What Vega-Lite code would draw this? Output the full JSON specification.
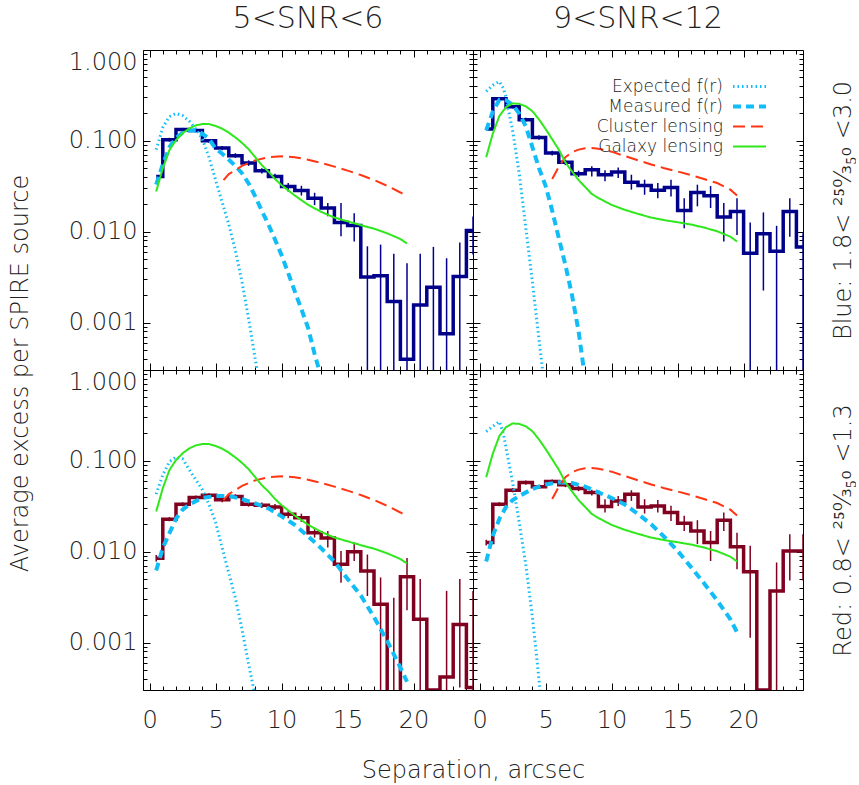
{
  "$schema": "https://vega.github.io/schema/vega-lite/v6.json",
  "background": "white",
  "padding": {"left": 7, "top": 3, "right": 0, "bottom": 0},
  "columns": 2,
  "spacing": 0,
  "bounds": "flush",
  "datasets": {
    "hist": [
      {"p": "TL", "x": 0.5, "y": 0.0406},
      {"p": "TL", "x": 1.5, "y": 0.103, "lo": 0.098, "hi": 0.108},
      {"p": "TL", "x": 2.5, "y": 0.133, "lo": 0.127, "hi": 0.139},
      {"p": "TL", "x": 3.5, "y": 0.13, "lo": 0.124, "hi": 0.136},
      {"p": "TL", "x": 4.5, "y": 0.1, "lo": 0.095, "hi": 0.105},
      {"p": "TL", "x": 5.5, "y": 0.0835, "lo": 0.079, "hi": 0.088},
      {"p": "TL", "x": 6.5, "y": 0.0687, "lo": 0.065, "hi": 0.073},
      {"p": "TL", "x": 7.5, "y": 0.057, "lo": 0.053, "hi": 0.061},
      {"p": "TL", "x": 8.5, "y": 0.0469, "lo": 0.0438, "hi": 0.05},
      {"p": "TL", "x": 9.5, "y": 0.0406, "lo": 0.0377, "hi": 0.0435},
      {"p": "TL", "x": 10.5, "y": 0.0315, "lo": 0.0277, "hi": 0.0343},
      {"p": "TL", "x": 11.5, "y": 0.0284, "lo": 0.025, "hi": 0.032},
      {"p": "TL", "x": 12.5, "y": 0.0234, "lo": 0.0196, "hi": 0.0268},
      {"p": "TL", "x": 13.5, "y": 0.0182, "lo": 0.0148, "hi": 0.0207},
      {"p": "TL", "x": 14.5, "y": 0.0126, "lo": 0.0089, "hi": 0.0207},
      {"p": "TL", "x": 15.5, "y": 0.0117, "lo": 0.0078, "hi": 0.016},
      {"p": "TL", "x": 16.5, "y": 0.00316, "lo": 0.0001, "hi": 0.0069},
      {"p": "TL", "x": 17.5, "y": 0.00327, "lo": 0.0001, "hi": 0.0072},
      {"p": "TL", "x": 18.5, "y": 0.0017, "lo": 0.0001, "hi": 0.0057},
      {"p": "TL", "x": 19.5, "y": 0.000394, "lo": 0.0001, "hi": 0.0045},
      {"p": "TL", "x": 20.5, "y": 0.00156, "lo": 0.0001, "hi": 0.0057},
      {"p": "TL", "x": 21.5, "y": 0.00245, "lo": 0.0001, "hi": 0.0068},
      {"p": "TL", "x": 22.5, "y": 0.00075, "lo": 0.0001, "hi": 0.0051},
      {"p": "TL", "x": 23.5, "y": 0.0032, "lo": 0.0001, "hi": 0.0076},
      {"p": "TL", "x": 24.5, "y": 0.0103, "lo": 0.0056, "hi": 0.0147},

      {"p": "TR", "x": 0.5, "y": 0.135},
      {"p": "TR", "x": 1.5, "y": 0.29, "lo": 0.28, "hi": 0.3},
      {"p": "TR", "x": 2.5, "y": 0.237, "lo": 0.227, "hi": 0.247},
      {"p": "TR", "x": 3.5, "y": 0.171, "lo": 0.163, "hi": 0.179},
      {"p": "TR", "x": 4.5, "y": 0.109, "lo": 0.103, "hi": 0.115},
      {"p": "TR", "x": 5.5, "y": 0.0735, "lo": 0.069, "hi": 0.078},
      {"p": "TR", "x": 6.5, "y": 0.058, "lo": 0.054, "hi": 0.062},
      {"p": "TR", "x": 7.5, "y": 0.0435, "lo": 0.04, "hi": 0.047},
      {"p": "TR", "x": 8.5, "y": 0.048, "lo": 0.0406, "hi": 0.0524},
      {"p": "TR", "x": 9.5, "y": 0.0424, "lo": 0.0358, "hi": 0.0473},
      {"p": "TR", "x": 10.5, "y": 0.0454, "lo": 0.039, "hi": 0.051},
      {"p": "TR", "x": 11.5, "y": 0.0349, "lo": 0.029, "hi": 0.0424},
      {"p": "TR", "x": 12.5, "y": 0.0323, "lo": 0.0255, "hi": 0.0373},
      {"p": "TR", "x": 13.5, "y": 0.0285, "lo": 0.0234, "hi": 0.0343},
      {"p": "TR", "x": 14.5, "y": 0.0307, "lo": 0.0244, "hi": 0.0373},
      {"p": "TR", "x": 15.5, "y": 0.0171, "lo": 0.0109, "hi": 0.0234},
      {"p": "TR", "x": 16.5, "y": 0.027, "lo": 0.019, "hi": 0.0329},
      {"p": "TR", "x": 17.5, "y": 0.0249, "lo": 0.0182, "hi": 0.0318},
      {"p": "TR", "x": 18.5, "y": 0.0145, "lo": 0.0078, "hi": 0.0207},
      {"p": "TR", "x": 19.5, "y": 0.0167, "lo": 0.0092, "hi": 0.0234},
      {"p": "TR", "x": 20.5, "y": 0.0058, "lo": 0.0001, "hi": 0.0126},
      {"p": "TR", "x": 21.5, "y": 0.0095, "lo": 0.00225, "hi": 0.0163},
      {"p": "TR", "x": 22.5, "y": 0.0061, "lo": 0.0001, "hi": 0.0116},
      {"p": "TR", "x": 23.5, "y": 0.0167, "lo": 0.0088, "hi": 0.0234},
      {"p": "TR", "x": 24.5, "y": 0.0068, "lo": 0.0001, "hi": 0.0096},

      {"p": "BL", "x": 0.5, "y": 0.00846, "lo": 0.0078, "hi": 0.0092},
      {"p": "BL", "x": 1.5, "y": 0.0228, "lo": 0.0216, "hi": 0.024},
      {"p": "BL", "x": 2.5, "y": 0.0333, "lo": 0.0316, "hi": 0.035},
      {"p": "BL", "x": 3.5, "y": 0.0395, "lo": 0.0375, "hi": 0.0415},
      {"p": "BL", "x": 4.5, "y": 0.0418, "lo": 0.0396, "hi": 0.044},
      {"p": "BL", "x": 5.5, "y": 0.0372, "lo": 0.035, "hi": 0.0393},
      {"p": "BL", "x": 6.5, "y": 0.0405, "lo": 0.0382, "hi": 0.0428},
      {"p": "BL", "x": 7.5, "y": 0.0333, "lo": 0.0313, "hi": 0.0353},
      {"p": "BL", "x": 8.5, "y": 0.0325, "lo": 0.0303, "hi": 0.0347},
      {"p": "BL", "x": 9.5, "y": 0.0311, "lo": 0.0287, "hi": 0.0335},
      {"p": "BL", "x": 10.5, "y": 0.0258, "lo": 0.0234, "hi": 0.0282},
      {"p": "BL", "x": 11.5, "y": 0.0237, "lo": 0.0212, "hi": 0.0262},
      {"p": "BL", "x": 12.5, "y": 0.0162, "lo": 0.0143, "hi": 0.0184},
      {"p": "BL", "x": 13.5, "y": 0.0141, "lo": 0.0111, "hi": 0.0169},
      {"p": "BL", "x": 14.5, "y": 0.00726, "lo": 0.00456, "hi": 0.0102},
      {"p": "BL", "x": 15.5, "y": 0.01, "lo": 0.0079, "hi": 0.0126},
      {"p": "BL", "x": 16.5, "y": 0.00612, "lo": 0.00325, "hi": 0.0093},
      {"p": "BL", "x": 17.5, "y": 0.00263, "lo": 0.0001, "hi": 0.0052},
      {"p": "BL", "x": 18.5, "y": 0.0001, "lo": 0.0001, "hi": 0.0031},
      {"p": "BL", "x": 19.5, "y": 0.0053, "lo": 0.00226, "hi": 0.0085},
      {"p": "BL", "x": 20.5, "y": 0.0018, "lo": 0.0001, "hi": 0.005},
      {"p": "BL", "x": 21.5, "y": 0.0003},
      {"p": "BL", "x": 22.5, "y": 0.000416, "lo": 0.0001, "hi": 0.0037},
      {"p": "BL", "x": 23.5, "y": 0.00158, "lo": 0.00032, "hi": 0.005},
      {"p": "BL", "x": 24.5, "y": 0.00032, "lo": 0.0001, "hi": 0.0037},

      {"p": "BR", "x": 0.5, "y": 0.0126, "lo": 0.0117, "hi": 0.0135},
      {"p": "BR", "x": 1.5, "y": 0.0333, "lo": 0.0316, "hi": 0.035},
      {"p": "BR", "x": 2.5, "y": 0.0475, "lo": 0.045, "hi": 0.05},
      {"p": "BR", "x": 3.5, "y": 0.0577, "lo": 0.0547, "hi": 0.0607},
      {"p": "BR", "x": 4.5, "y": 0.0517, "lo": 0.049, "hi": 0.0545},
      {"p": "BR", "x": 5.5, "y": 0.0591, "lo": 0.056, "hi": 0.0623},
      {"p": "BR", "x": 6.5, "y": 0.0544, "lo": 0.0513, "hi": 0.0575},
      {"p": "BR", "x": 7.5, "y": 0.0496, "lo": 0.0464, "hi": 0.053},
      {"p": "BR", "x": 8.5, "y": 0.0448, "lo": 0.0416, "hi": 0.048},
      {"p": "BR", "x": 9.5, "y": 0.0314, "lo": 0.027, "hi": 0.0378},
      {"p": "BR", "x": 10.5, "y": 0.0362, "lo": 0.0319, "hi": 0.0411},
      {"p": "BR", "x": 11.5, "y": 0.043, "lo": 0.0362, "hi": 0.0475},
      {"p": "BR", "x": 12.5, "y": 0.0311, "lo": 0.0263, "hi": 0.0378},
      {"p": "BR", "x": 13.5, "y": 0.0319, "lo": 0.027, "hi": 0.037},
      {"p": "BR", "x": 14.5, "y": 0.027, "lo": 0.0218, "hi": 0.032},
      {"p": "BR", "x": 15.5, "y": 0.0206, "lo": 0.0169, "hi": 0.0248},
      {"p": "BR", "x": 16.5, "y": 0.0169, "lo": 0.0121, "hi": 0.0222},
      {"p": "BR", "x": 17.5, "y": 0.0126, "lo": 0.0079, "hi": 0.0169},
      {"p": "BR", "x": 18.5, "y": 0.0222, "lo": 0.0169, "hi": 0.027},
      {"p": "BR", "x": 19.5, "y": 0.0113, "lo": 0.0064, "hi": 0.0162},
      {"p": "BR", "x": 20.5, "y": 0.006, "lo": 0.00113, "hi": 0.0116},
      {"p": "BR", "x": 21.5, "y": 0.0003},
      {"p": "BR", "x": 22.5, "y": 0.0037, "lo": 0.0001, "hi": 0.0076},
      {"p": "BR", "x": 23.5, "y": 0.0102, "lo": 0.0048, "hi": 0.0156},
      {"p": "BR", "x": 24.5, "y": 0.0102, "lo": 0.0048, "hi": 0.0156}
    ],
    "curves": [
      {"p": "TL", "s": "Expected f(r)", "x": 0.5, "y": 0.08},
      {"p": "TL", "s": "Expected f(r)", "x": 1, "y": 0.14},
      {"p": "TL", "s": "Expected f(r)", "x": 1.5, "y": 0.185},
      {"p": "TL", "s": "Expected f(r)", "x": 2, "y": 0.2},
      {"p": "TL", "s": "Expected f(r)", "x": 2.5, "y": 0.19},
      {"p": "TL", "s": "Expected f(r)", "x": 3, "y": 0.165},
      {"p": "TL", "s": "Expected f(r)", "x": 3.5, "y": 0.135},
      {"p": "TL", "s": "Expected f(r)", "x": 4, "y": 0.105},
      {"p": "TL", "s": "Expected f(r)", "x": 4.5, "y": 0.066},
      {"p": "TL", "s": "Expected f(r)", "x": 5, "y": 0.037},
      {"p": "TL", "s": "Expected f(r)", "x": 5.5, "y": 0.021},
      {"p": "TL", "s": "Expected f(r)", "x": 6, "y": 0.012},
      {"p": "TL", "s": "Expected f(r)", "x": 6.5, "y": 0.0062},
      {"p": "TL", "s": "Expected f(r)", "x": 7, "y": 0.0028},
      {"p": "TL", "s": "Expected f(r)", "x": 7.5, "y": 0.0011},
      {"p": "TL", "s": "Expected f(r)", "x": 8, "y": 0.0004},
      {"p": "TL", "s": "Expected f(r)", "x": 8.4, "y": 0.00018},

      {"p": "TL", "s": "Measured f(r)", "x": 0.5, "y": 0.033},
      {"p": "TL", "s": "Measured f(r)", "x": 1, "y": 0.055},
      {"p": "TL", "s": "Measured f(r)", "x": 1.5, "y": 0.085},
      {"p": "TL", "s": "Measured f(r)", "x": 2, "y": 0.108},
      {"p": "TL", "s": "Measured f(r)", "x": 2.5, "y": 0.123},
      {"p": "TL", "s": "Measured f(r)", "x": 3, "y": 0.13},
      {"p": "TL", "s": "Measured f(r)", "x": 3.5, "y": 0.13},
      {"p": "TL", "s": "Measured f(r)", "x": 4, "y": 0.12},
      {"p": "TL", "s": "Measured f(r)", "x": 4.5, "y": 0.105},
      {"p": "TL", "s": "Measured f(r)", "x": 5, "y": 0.082},
      {"p": "TL", "s": "Measured f(r)", "x": 5.5, "y": 0.072},
      {"p": "TL", "s": "Measured f(r)", "x": 6, "y": 0.062},
      {"p": "TL", "s": "Measured f(r)", "x": 6.5, "y": 0.053},
      {"p": "TL", "s": "Measured f(r)", "x": 7, "y": 0.044},
      {"p": "TL", "s": "Measured f(r)", "x": 7.5, "y": 0.034},
      {"p": "TL", "s": "Measured f(r)", "x": 8, "y": 0.0245},
      {"p": "TL", "s": "Measured f(r)", "x": 8.5, "y": 0.017},
      {"p": "TL", "s": "Measured f(r)", "x": 9, "y": 0.012},
      {"p": "TL", "s": "Measured f(r)", "x": 9.5, "y": 0.0082},
      {"p": "TL", "s": "Measured f(r)", "x": 10, "y": 0.0055},
      {"p": "TL", "s": "Measured f(r)", "x": 10.5, "y": 0.0035},
      {"p": "TL", "s": "Measured f(r)", "x": 11, "y": 0.0022},
      {"p": "TL", "s": "Measured f(r)", "x": 11.5, "y": 0.0014},
      {"p": "TL", "s": "Measured f(r)", "x": 12, "y": 0.00088},
      {"p": "TL", "s": "Measured f(r)", "x": 12.5, "y": 0.00045},
      {"p": "TL", "s": "Measured f(r)", "x": 12.9, "y": 0.00028},

      {"p": "TR", "s": "Expected f(r)", "x": 0.5, "y": 0.35},
      {"p": "TR", "s": "Expected f(r)", "x": 1, "y": 0.41},
      {"p": "TR", "s": "Expected f(r)", "x": 1.5, "y": 0.45},
      {"p": "TR", "s": "Expected f(r)", "x": 1.8, "y": 0.38},
      {"p": "TR", "s": "Expected f(r)", "x": 2, "y": 0.3},
      {"p": "TR", "s": "Expected f(r)", "x": 2.5, "y": 0.13},
      {"p": "TR", "s": "Expected f(r)", "x": 3, "y": 0.044},
      {"p": "TR", "s": "Expected f(r)", "x": 3.5, "y": 0.011},
      {"p": "TR", "s": "Expected f(r)", "x": 4, "y": 0.0028},
      {"p": "TR", "s": "Expected f(r)", "x": 4.5, "y": 0.00065},
      {"p": "TR", "s": "Expected f(r)", "x": 4.8, "y": 0.00028},

      {"p": "TR", "s": "Measured f(r)", "x": 0.5, "y": 0.13},
      {"p": "TR", "s": "Measured f(r)", "x": 1, "y": 0.21},
      {"p": "TR", "s": "Measured f(r)", "x": 1.5, "y": 0.283},
      {"p": "TR", "s": "Measured f(r)", "x": 2, "y": 0.28},
      {"p": "TR", "s": "Measured f(r)", "x": 2.5, "y": 0.25},
      {"p": "TR", "s": "Measured f(r)", "x": 3, "y": 0.2},
      {"p": "TR", "s": "Measured f(r)", "x": 3.5, "y": 0.145},
      {"p": "TR", "s": "Measured f(r)", "x": 4, "y": 0.085},
      {"p": "TR", "s": "Measured f(r)", "x": 4.5, "y": 0.05},
      {"p": "TR", "s": "Measured f(r)", "x": 5, "y": 0.032},
      {"p": "TR", "s": "Measured f(r)", "x": 5.5, "y": 0.017},
      {"p": "TR", "s": "Measured f(r)", "x": 6, "y": 0.0085},
      {"p": "TR", "s": "Measured f(r)", "x": 6.5, "y": 0.0043},
      {"p": "TR", "s": "Measured f(r)", "x": 7, "y": 0.002},
      {"p": "TR", "s": "Measured f(r)", "x": 7.5, "y": 0.0008},
      {"p": "TR", "s": "Measured f(r)", "x": 7.9, "y": 0.0003},

      {"p": "BL", "s": "Expected f(r)", "x": 0.5, "y": 0.043},
      {"p": "BL", "s": "Expected f(r)", "x": 1, "y": 0.07},
      {"p": "BL", "s": "Expected f(r)", "x": 1.5, "y": 0.098},
      {"p": "BL", "s": "Expected f(r)", "x": 2, "y": 0.11},
      {"p": "BL", "s": "Expected f(r)", "x": 2.5, "y": 0.105},
      {"p": "BL", "s": "Expected f(r)", "x": 3, "y": 0.08},
      {"p": "BL", "s": "Expected f(r)", "x": 3.5, "y": 0.062},
      {"p": "BL", "s": "Expected f(r)", "x": 4, "y": 0.048},
      {"p": "BL", "s": "Expected f(r)", "x": 4.5, "y": 0.033},
      {"p": "BL", "s": "Expected f(r)", "x": 5, "y": 0.021},
      {"p": "BL", "s": "Expected f(r)", "x": 5.5, "y": 0.011},
      {"p": "BL", "s": "Expected f(r)", "x": 6, "y": 0.0058},
      {"p": "BL", "s": "Expected f(r)", "x": 6.5, "y": 0.0031},
      {"p": "BL", "s": "Expected f(r)", "x": 7, "y": 0.0014},
      {"p": "BL", "s": "Expected f(r)", "x": 7.5, "y": 0.00058},
      {"p": "BL", "s": "Expected f(r)", "x": 7.9, "y": 0.0003},

      {"p": "BL", "s": "Measured f(r)", "x": 0.5, "y": 0.0062},
      {"p": "BL", "s": "Measured f(r)", "x": 1, "y": 0.011},
      {"p": "BL", "s": "Measured f(r)", "x": 1.5, "y": 0.016},
      {"p": "BL", "s": "Measured f(r)", "x": 2, "y": 0.023},
      {"p": "BL", "s": "Measured f(r)", "x": 2.5, "y": 0.029},
      {"p": "BL", "s": "Measured f(r)", "x": 3, "y": 0.033},
      {"p": "BL", "s": "Measured f(r)", "x": 3.5, "y": 0.036},
      {"p": "BL", "s": "Measured f(r)", "x": 4, "y": 0.039},
      {"p": "BL", "s": "Measured f(r)", "x": 5, "y": 0.041},
      {"p": "BL", "s": "Measured f(r)", "x": 6, "y": 0.041},
      {"p": "BL", "s": "Measured f(r)", "x": 7, "y": 0.038},
      {"p": "BL", "s": "Measured f(r)", "x": 8, "y": 0.034},
      {"p": "BL", "s": "Measured f(r)", "x": 9, "y": 0.03},
      {"p": "BL", "s": "Measured f(r)", "x": 10, "y": 0.0245},
      {"p": "BL", "s": "Measured f(r)", "x": 11, "y": 0.0197},
      {"p": "BL", "s": "Measured f(r)", "x": 12, "y": 0.0148},
      {"p": "BL", "s": "Measured f(r)", "x": 13, "y": 0.0109},
      {"p": "BL", "s": "Measured f(r)", "x": 14, "y": 0.0078},
      {"p": "BL", "s": "Measured f(r)", "x": 15, "y": 0.005},
      {"p": "BL", "s": "Measured f(r)", "x": 16, "y": 0.0033},
      {"p": "BL", "s": "Measured f(r)", "x": 17, "y": 0.0019},
      {"p": "BL", "s": "Measured f(r)", "x": 18, "y": 0.00104},
      {"p": "BL", "s": "Measured f(r)", "x": 19, "y": 0.00053},
      {"p": "BL", "s": "Measured f(r)", "x": 19.5, "y": 0.00037},

      {"p": "BR", "s": "Expected f(r)", "x": 0.5, "y": 0.21},
      {"p": "BR", "s": "Expected f(r)", "x": 1, "y": 0.24},
      {"p": "BR", "s": "Expected f(r)", "x": 1.5, "y": 0.27},
      {"p": "BR", "s": "Expected f(r)", "x": 1.8, "y": 0.2},
      {"p": "BR", "s": "Expected f(r)", "x": 2, "y": 0.14},
      {"p": "BR", "s": "Expected f(r)", "x": 2.5, "y": 0.058},
      {"p": "BR", "s": "Expected f(r)", "x": 3, "y": 0.021},
      {"p": "BR", "s": "Expected f(r)", "x": 3.5, "y": 0.0072},
      {"p": "BR", "s": "Expected f(r)", "x": 4, "y": 0.0019},
      {"p": "BR", "s": "Expected f(r)", "x": 4.3, "y": 0.00075},
      {"p": "BR", "s": "Expected f(r)", "x": 4.6, "y": 0.00028},

      {"p": "BR", "s": "Measured f(r)", "x": 0.5, "y": 0.0078},
      {"p": "BR", "s": "Measured f(r)", "x": 1, "y": 0.015},
      {"p": "BR", "s": "Measured f(r)", "x": 1.5, "y": 0.023},
      {"p": "BR", "s": "Measured f(r)", "x": 2, "y": 0.031},
      {"p": "BR", "s": "Measured f(r)", "x": 2.5, "y": 0.037},
      {"p": "BR", "s": "Measured f(r)", "x": 3, "y": 0.041},
      {"p": "BR", "s": "Measured f(r)", "x": 4, "y": 0.049},
      {"p": "BR", "s": "Measured f(r)", "x": 5, "y": 0.055},
      {"p": "BR", "s": "Measured f(r)", "x": 6, "y": 0.058},
      {"p": "BR", "s": "Measured f(r)", "x": 7, "y": 0.057},
      {"p": "BR", "s": "Measured f(r)", "x": 8, "y": 0.052},
      {"p": "BR", "s": "Measured f(r)", "x": 9, "y": 0.045},
      {"p": "BR", "s": "Measured f(r)", "x": 10, "y": 0.039},
      {"p": "BR", "s": "Measured f(r)", "x": 11, "y": 0.033},
      {"p": "BR", "s": "Measured f(r)", "x": 12, "y": 0.026},
      {"p": "BR", "s": "Measured f(r)", "x": 13, "y": 0.02},
      {"p": "BR", "s": "Measured f(r)", "x": 14, "y": 0.0145},
      {"p": "BR", "s": "Measured f(r)", "x": 15, "y": 0.0102},
      {"p": "BR", "s": "Measured f(r)", "x": 16, "y": 0.0068},
      {"p": "BR", "s": "Measured f(r)", "x": 17, "y": 0.0045},
      {"p": "BR", "s": "Measured f(r)", "x": 18, "y": 0.0029},
      {"p": "BR", "s": "Measured f(r)", "x": 19, "y": 0.0018},
      {"p": "BR", "s": "Measured f(r)", "x": 19.5, "y": 0.0013},

      {"p": "L", "s": "Cluster lensing", "x": 5.6, "y": 0.037},
      {"p": "L", "s": "Cluster lensing", "x": 6, "y": 0.043},
      {"p": "L", "s": "Cluster lensing", "x": 7, "y": 0.053},
      {"p": "L", "s": "Cluster lensing", "x": 8, "y": 0.061},
      {"p": "L", "s": "Cluster lensing", "x": 9, "y": 0.066},
      {"p": "L", "s": "Cluster lensing", "x": 10, "y": 0.0675},
      {"p": "L", "s": "Cluster lensing", "x": 11, "y": 0.066},
      {"p": "L", "s": "Cluster lensing", "x": 12, "y": 0.062},
      {"p": "L", "s": "Cluster lensing", "x": 13, "y": 0.057},
      {"p": "L", "s": "Cluster lensing", "x": 14, "y": 0.052},
      {"p": "L", "s": "Cluster lensing", "x": 15, "y": 0.047},
      {"p": "L", "s": "Cluster lensing", "x": 16, "y": 0.042},
      {"p": "L", "s": "Cluster lensing", "x": 17, "y": 0.037},
      {"p": "L", "s": "Cluster lensing", "x": 18, "y": 0.032},
      {"p": "L", "s": "Cluster lensing", "x": 19, "y": 0.027},
      {"p": "L", "s": "Cluster lensing", "x": 19.5, "y": 0.0245},

      {"p": "L", "s": "Galaxy lensing", "x": 0.5, "y": 0.0277},
      {"p": "L", "s": "Galaxy lensing", "x": 1, "y": 0.05},
      {"p": "L", "s": "Galaxy lensing", "x": 1.5, "y": 0.079},
      {"p": "L", "s": "Galaxy lensing", "x": 2, "y": 0.102},
      {"p": "L", "s": "Galaxy lensing", "x": 2.5, "y": 0.121},
      {"p": "L", "s": "Galaxy lensing", "x": 3, "y": 0.137},
      {"p": "L", "s": "Galaxy lensing", "x": 3.5, "y": 0.148},
      {"p": "L", "s": "Galaxy lensing", "x": 4, "y": 0.153},
      {"p": "L", "s": "Galaxy lensing", "x": 4.5, "y": 0.153},
      {"p": "L", "s": "Galaxy lensing", "x": 5, "y": 0.146},
      {"p": "L", "s": "Galaxy lensing", "x": 5.5, "y": 0.136},
      {"p": "L", "s": "Galaxy lensing", "x": 6, "y": 0.123},
      {"p": "L", "s": "Galaxy lensing", "x": 6.5, "y": 0.109},
      {"p": "L", "s": "Galaxy lensing", "x": 7, "y": 0.095},
      {"p": "L", "s": "Galaxy lensing", "x": 7.5, "y": 0.081},
      {"p": "L", "s": "Galaxy lensing", "x": 8, "y": 0.066},
      {"p": "L", "s": "Galaxy lensing", "x": 8.5, "y": 0.054},
      {"p": "L", "s": "Galaxy lensing", "x": 9, "y": 0.046},
      {"p": "L", "s": "Galaxy lensing", "x": 9.5, "y": 0.038},
      {"p": "L", "s": "Galaxy lensing", "x": 10, "y": 0.0325},
      {"p": "L", "s": "Galaxy lensing", "x": 11, "y": 0.025},
      {"p": "L", "s": "Galaxy lensing", "x": 12, "y": 0.0198},
      {"p": "L", "s": "Galaxy lensing", "x": 13, "y": 0.0165},
      {"p": "L", "s": "Galaxy lensing", "x": 14, "y": 0.0143},
      {"p": "L", "s": "Galaxy lensing", "x": 15, "y": 0.013},
      {"p": "L", "s": "Galaxy lensing", "x": 16, "y": 0.0118},
      {"p": "L", "s": "Galaxy lensing", "x": 17, "y": 0.0108},
      {"p": "L", "s": "Galaxy lensing", "x": 18, "y": 0.0096},
      {"p": "L", "s": "Galaxy lensing", "x": 19, "y": 0.0083},
      {"p": "L", "s": "Galaxy lensing", "x": 19.5, "y": 0.0074},

      {"p": "R", "s": "Cluster lensing", "x": 5.5, "y": 0.038},
      {"p": "R", "s": "Cluster lensing", "x": 6, "y": 0.052},
      {"p": "R", "s": "Cluster lensing", "x": 6.5, "y": 0.066},
      {"p": "R", "s": "Cluster lensing", "x": 7, "y": 0.075},
      {"p": "R", "s": "Cluster lensing", "x": 7.5, "y": 0.08},
      {"p": "R", "s": "Cluster lensing", "x": 8, "y": 0.083},
      {"p": "R", "s": "Cluster lensing", "x": 8.5, "y": 0.0835},
      {"p": "R", "s": "Cluster lensing", "x": 9, "y": 0.082},
      {"p": "R", "s": "Cluster lensing", "x": 10, "y": 0.076},
      {"p": "R", "s": "Cluster lensing", "x": 11, "y": 0.068},
      {"p": "R", "s": "Cluster lensing", "x": 12, "y": 0.061},
      {"p": "R", "s": "Cluster lensing", "x": 13, "y": 0.055},
      {"p": "R", "s": "Cluster lensing", "x": 14, "y": 0.05},
      {"p": "R", "s": "Cluster lensing", "x": 15, "y": 0.046},
      {"p": "R", "s": "Cluster lensing", "x": 16, "y": 0.042},
      {"p": "R", "s": "Cluster lensing", "x": 17, "y": 0.038},
      {"p": "R", "s": "Cluster lensing", "x": 18, "y": 0.0343},
      {"p": "R", "s": "Cluster lensing", "x": 19, "y": 0.029},
      {"p": "R", "s": "Cluster lensing", "x": 19.5, "y": 0.025},

      {"p": "R", "s": "Galaxy lensing", "x": 0.5, "y": 0.066},
      {"p": "R", "s": "Galaxy lensing", "x": 1, "y": 0.12},
      {"p": "R", "s": "Galaxy lensing", "x": 1.5, "y": 0.188},
      {"p": "R", "s": "Galaxy lensing", "x": 2, "y": 0.235},
      {"p": "R", "s": "Galaxy lensing", "x": 2.5, "y": 0.258},
      {"p": "R", "s": "Galaxy lensing", "x": 3, "y": 0.255},
      {"p": "R", "s": "Galaxy lensing", "x": 3.5, "y": 0.24},
      {"p": "R", "s": "Galaxy lensing", "x": 4, "y": 0.212},
      {"p": "R", "s": "Galaxy lensing", "x": 4.5, "y": 0.172},
      {"p": "R", "s": "Galaxy lensing", "x": 5, "y": 0.135},
      {"p": "R", "s": "Galaxy lensing", "x": 5.5, "y": 0.104},
      {"p": "R", "s": "Galaxy lensing", "x": 6, "y": 0.08},
      {"p": "R", "s": "Galaxy lensing", "x": 6.5, "y": 0.058},
      {"p": "R", "s": "Galaxy lensing", "x": 7, "y": 0.046},
      {"p": "R", "s": "Galaxy lensing", "x": 7.5, "y": 0.037},
      {"p": "R", "s": "Galaxy lensing", "x": 8, "y": 0.031},
      {"p": "R", "s": "Galaxy lensing", "x": 8.5, "y": 0.026},
      {"p": "R", "s": "Galaxy lensing", "x": 9, "y": 0.0235},
      {"p": "R", "s": "Galaxy lensing", "x": 10, "y": 0.0197},
      {"p": "R", "s": "Galaxy lensing", "x": 11, "y": 0.0174},
      {"p": "R", "s": "Galaxy lensing", "x": 12, "y": 0.0157},
      {"p": "R", "s": "Galaxy lensing", "x": 13, "y": 0.0143},
      {"p": "R", "s": "Galaxy lensing", "x": 14, "y": 0.0134},
      {"p": "R", "s": "Galaxy lensing", "x": 15, "y": 0.0127},
      {"p": "R", "s": "Galaxy lensing", "x": 16, "y": 0.012},
      {"p": "R", "s": "Galaxy lensing", "x": 17, "y": 0.0111},
      {"p": "R", "s": "Galaxy lensing", "x": 18, "y": 0.0101},
      {"p": "R", "s": "Galaxy lensing", "x": 19, "y": 0.0088},
      {"p": "R", "s": "Galaxy lensing", "x": 19.5, "y": 0.0078}
    ]
  },
  "concat": [
    {
      "width": 330, "height": 320,
      "title": {"text": "5<SNR<6"},
      "layer": [
        {
          "data": {"name": "hist"},
          "transform": [{"filter": "datum.p === 'TL'"}],
          "mark": {"type": "line", "interpolate": "step", "clip": true, "color": "#00008B", "strokeWidth": 3.5},
          "encoding": {
            "x": {"field": "x", "type": "quantitative", "scale": {"domain": [-0.5, 24.5], "nice": false, "zero": false},
              "axis": {"orient": "bottom", "values": [0,1,2,3,4,5,6,7,8,9,10,11,12,13,14,15,16,17,18,19,20,21,22,23,24], "labels": false, "title": null,
                "tickSize": {"condition": {"test": "datum.value % 5 === 0", "value": -7}, "value": -4}}},
            "y": {"field": "y", "type": "quantitative", "scale": {"type": "log", "domain": [0.0003, 1], "nice": false},
              "axis": {"orient": "left", "values": [0.0003,0.0004,0.0005,0.0006,0.0007,0.0008,0.0009,0.001,0.002,0.003,0.004,0.005,0.006,0.007,0.008,0.009,0.01,0.02,0.03,0.04,0.05,0.06,0.07,0.08,0.09,0.1,0.2,0.3,0.4,0.5,0.6,0.7,0.8,0.9,1],
                "labelExpr": "abs(log(datum.value) / LN10 - round(log(datum.value) / LN10)) < 0.01 ? format(datum.value, '.3f') : ''",
                "labelFontSize": {"condition": {"test": "abs(log(datum.value) / LN10 - round(log(datum.value) / LN10)) < 0.01", "value": 24}, "value": 0},
                "labelFlush": true, "labelOverlap": false, "labelPadding": 13,
                "tickSize": {"condition": {"test": "abs(log(datum.value) / LN10 - round(log(datum.value) / LN10)) < 0.01", "value": -7}, "value": -4},
                "title": "Average excess per SPIRE source", "titleX": -116, "titleY": 323, "titleAngle": 270, "titleBaseline": "alphabetic"}}
          }
        },
        {
          "data": {"name": "hist"},
          "transform": [{"filter": "datum.p === 'TL' && isValid(datum.lo)"}],
          "mark": {"type": "rule", "clip": true, "color": "#00008B", "strokeWidth": 1.5},
          "encoding": {
            "x": {"field": "x", "type": "quantitative", "scale": {"domain": [-0.5, 24.5], "nice": false, "zero": false},
              "axis": {"orient": "top", "values": [0,1,2,3,4,5,6,7,8,9,10,11,12,13,14,15,16,17,18,19,20,21,22,23,24], "labels": false, "title": null,
                "tickSize": {"condition": {"test": "datum.value % 5 === 0", "value": -7}, "value": -4}}},
            "y": {"field": "lo", "type": "quantitative", "scale": {"type": "log", "domain": [0.0003, 1], "nice": false},
              "axis": {"orient": "right", "values": [0.0003,0.0004,0.0005,0.0006,0.0007,0.0008,0.0009,0.001,0.002,0.003,0.004,0.005,0.006,0.007,0.008,0.009,0.01,0.02,0.03,0.04,0.05,0.06,0.07,0.08,0.09,0.1,0.2,0.3,0.4,0.5,0.6,0.7,0.8,0.9,1],
                "labels": false, "title": null,
                "tickSize": {"condition": {"test": "abs(log(datum.value) / LN10 - round(log(datum.value) / LN10)) < 0.01", "value": -7}, "value": -4}}},
            "y2": {"field": "hi"}
          }
        },
        {
          "data": {"name": "curves"},
          "transform": [{"filter": "datum.p === 'TL' || datum.p === 'L'"}],
          "mark": {"type": "line", "clip": true},
          "encoding": {
            "x": {"field": "x", "type": "quantitative", "scale": {"domain": [-0.5, 24.5], "nice": false, "zero": false}, "axis": null},
            "y": {"field": "y", "type": "quantitative", "scale": {"type": "log", "domain": [0.0003, 1], "nice": false}, "axis": null},
            "color": {"field": "s", "type": "nominal", "legend": null,
              "scale": {"domain": ["Expected f(r)", "Measured f(r)", "Cluster lensing", "Galaxy lensing"], "range": ["#12BDF7", "#12BDF7", "#FF3514", "#2EE81C"]}},
            "strokeDash": {"field": "s", "type": "nominal", "legend": null,
              "scale": {"domain": ["Expected f(r)", "Measured f(r)", "Cluster lensing", "Galaxy lensing"], "range": [[1.5, 3], [8, 5], [12, 6], [1, 0]]}},
            "strokeWidth": {"condition": [{"test": "datum.s === 'Expected f(r)'", "value": 3}, {"test": "datum.s === 'Measured f(r)'", "value": 4}], "value": 2}
          }
        }
      ],
      "resolve": {"axis": {"x": "independent", "y": "independent"}}
    },
    {
      "width": 330, "height": 320,
      "title": {"text": "9<SNR<12"},
      "layer": [
        {
          "data": {"name": "hist"},
          "transform": [{"filter": "datum.p === 'TR'"}],
          "mark": {"type": "line", "interpolate": "step", "clip": true, "color": "#00008B", "strokeWidth": 3.5},
          "encoding": {
            "x": {"field": "x", "type": "quantitative", "scale": {"domain": [-0.5, 24.5], "nice": false, "zero": false},
              "axis": {"orient": "bottom", "values": [0,1,2,3,4,5,6,7,8,9,10,11,12,13,14,15,16,17,18,19,20,21,22,23,24], "labels": false, "title": null,
                "tickSize": {"condition": {"test": "datum.value % 5 === 0", "value": -7}, "value": -4}}},
            "y": {"field": "y", "type": "quantitative", "scale": {"type": "log", "domain": [0.0003, 1], "nice": false},
              "axis": {"orient": "left", "values": [0.0003,0.0004,0.0005,0.0006,0.0007,0.0008,0.0009,0.001,0.002,0.003,0.004,0.005,0.006,0.007,0.008,0.009,0.01,0.02,0.03,0.04,0.05,0.06,0.07,0.08,0.09,0.1,0.2,0.3,0.4,0.5,0.6,0.7,0.8,0.9,1],
                "labels": false, "title": null,
                "tickSize": {"condition": {"test": "abs(log(datum.value) / LN10 - round(log(datum.value) / LN10)) < 0.01", "value": -7}, "value": -4}}}
          }
        },
        {
          "data": {"name": "hist"},
          "transform": [{"filter": "datum.p === 'TR' && isValid(datum.lo)"}],
          "mark": {"type": "rule", "clip": true, "color": "#00008B", "strokeWidth": 1.5},
          "encoding": {
            "x": {"field": "x", "type": "quantitative", "scale": {"domain": [-0.5, 24.5], "nice": false, "zero": false},
              "axis": {"orient": "top", "values": [0,1,2,3,4,5,6,7,8,9,10,11,12,13,14,15,16,17,18,19,20,21,22,23,24], "labels": false, "title": null,
                "tickSize": {"condition": {"test": "datum.value % 5 === 0", "value": -7}, "value": -4}}},
            "y": {"field": "lo", "type": "quantitative", "scale": {"type": "log", "domain": [0.0003, 1], "nice": false},
              "axis": {"orient": "right", "values": [0.0003,0.0004,0.0005,0.0006,0.0007,0.0008,0.0009,0.001,0.002,0.003,0.004,0.005,0.006,0.007,0.008,0.009,0.01,0.02,0.03,0.04,0.05,0.06,0.07,0.08,0.09,0.1,0.2,0.3,0.4,0.5,0.6,0.7,0.8,0.9,1],
                "labels": false,
                "tickSize": {"condition": {"test": "abs(log(datum.value) / LN10 - round(log(datum.value) / LN10)) < 0.01", "value": -7}, "value": -4},
                "title": "Blue:  1.8< ²⁵⁰⁄₃₅₀ <3.0", "titleAngle": 270, "titleX": 40, "titleY": 160, "titleBaseline": "middle"}},
            "y2": {"field": "hi"}
          }
        },
        {
          "data": {"name": "curves"},
          "transform": [{"filter": "datum.p === 'TR' || datum.p === 'R'"}],
          "mark": {"type": "line", "clip": true},
          "encoding": {
            "x": {"field": "x", "type": "quantitative", "scale": {"domain": [-0.5, 24.5], "nice": false, "zero": false}, "axis": null},
            "y": {"field": "y", "type": "quantitative", "scale": {"type": "log", "domain": [0.0003, 1], "nice": false}, "axis": null},
            "color": {"field": "s", "type": "nominal",
              "scale": {"domain": ["Expected f(r)", "Measured f(r)", "Cluster lensing", "Galaxy lensing"], "range": ["#12BDF7", "#12BDF7", "#FF3514", "#2EE81C"]},
              "legend": {"orient": "none", "legendX": 268, "legendY": 28, "title": null, "padding": 0,
                "symbolType": "stroke", "symbolSize": 1089, "symbolStrokeWidth": 3,
                "labelAlign": "right", "labelOffset": -35, "labelLimit": 0, "rowPadding": 2,
                "encode": {"symbols": {"update": {"strokeWidth": {"signal": "datum.value === 'Measured f(r)' ? 4 : datum.value === 'Expected f(r)' ? 3 : 2"}}}}}},
            "strokeDash": {"field": "s", "type": "nominal",
              "scale": {"domain": ["Expected f(r)", "Measured f(r)", "Cluster lensing", "Galaxy lensing"], "range": [[1.5, 3], [8, 5], [12, 6], [1, 0]]},
              "legend": {"orient": "none", "legendX": 268, "legendY": 28, "title": null, "padding": 0,
                "symbolType": "stroke", "symbolSize": 1089, "symbolStrokeWidth": 3,
                "labelAlign": "right", "labelOffset": -35, "labelLimit": 0, "rowPadding": 2}},
            "strokeWidth": {"condition": [{"test": "datum.s === 'Expected f(r)'", "value": 3}, {"test": "datum.s === 'Measured f(r)'", "value": 4}], "value": 2}
          }
        }
      ],
      "resolve": {"axis": {"x": "independent", "y": "independent"}}
    },
    {
      "width": 330, "height": 320,
      "layer": [
        {
          "data": {"name": "hist"},
          "transform": [{"filter": "datum.p === 'BL'"}],
          "mark": {"type": "line", "interpolate": "step", "clip": true, "color": "#800020", "strokeWidth": 3.5},
          "encoding": {
            "x": {"field": "x", "type": "quantitative", "scale": {"domain": [-0.5, 24.5], "nice": false, "zero": false},
              "axis": {"orient": "bottom", "values": [0,1,2,3,4,5,6,7,8,9,10,11,12,13,14,15,16,17,18,19,20,21,22,23,24],
                "labelExpr": "datum.value % 5 === 0 ? datum.label : ''", "labelOverlap": false, "labelFlush": false, "labelPadding": 25,
                "tickSize": {"condition": {"test": "datum.value % 5 === 0", "value": -7}, "value": -4},
                "title": "Separation, arcsec", "titleX": 330, "titleY": 87, "titleBaseline": "alphabetic"}},
            "y": {"field": "y", "type": "quantitative", "scale": {"type": "log", "domain": [0.0003, 1], "nice": false},
              "axis": {"orient": "left", "values": [0.0003,0.0004,0.0005,0.0006,0.0007,0.0008,0.0009,0.001,0.002,0.003,0.004,0.005,0.006,0.007,0.008,0.009,0.01,0.02,0.03,0.04,0.05,0.06,0.07,0.08,0.09,0.1,0.2,0.3,0.4,0.5,0.6,0.7,0.8,0.9,1],
                "labelExpr": "abs(log(datum.value) / LN10 - round(log(datum.value) / LN10)) < 0.01 ? format(datum.value, '.3f') : ''",
                "labelFontSize": {"condition": {"test": "abs(log(datum.value) / LN10 - round(log(datum.value) / LN10)) < 0.01", "value": 24}, "value": 0},
                "labelFlush": true, "labelOverlap": false, "labelPadding": 13, "title": null,
                "tickSize": {"condition": {"test": "abs(log(datum.value) / LN10 - round(log(datum.value) / LN10)) < 0.01", "value": -7}, "value": -4}}}
          }
        },
        {
          "data": {"name": "hist"},
          "transform": [{"filter": "datum.p === 'BL' && isValid(datum.lo)"}],
          "mark": {"type": "rule", "clip": true, "color": "#800020", "strokeWidth": 1.5},
          "encoding": {
            "x": {"field": "x", "type": "quantitative", "scale": {"domain": [-0.5, 24.5], "nice": false, "zero": false},
              "axis": {"orient": "top", "values": [0,1,2,3,4,5,6,7,8,9,10,11,12,13,14,15,16,17,18,19,20,21,22,23,24], "labels": false, "title": null,
                "tickSize": {"condition": {"test": "datum.value % 5 === 0", "value": -7}, "value": -4}}},
            "y": {"field": "lo", "type": "quantitative", "scale": {"type": "log", "domain": [0.0003, 1], "nice": false},
              "axis": {"orient": "right", "values": [0.0003,0.0004,0.0005,0.0006,0.0007,0.0008,0.0009,0.001,0.002,0.003,0.004,0.005,0.006,0.007,0.008,0.009,0.01,0.02,0.03,0.04,0.05,0.06,0.07,0.08,0.09,0.1,0.2,0.3,0.4,0.5,0.6,0.7,0.8,0.9,1],
                "labels": false, "title": null,
                "tickSize": {"condition": {"test": "abs(log(datum.value) / LN10 - round(log(datum.value) / LN10)) < 0.01", "value": -7}, "value": -4}}},
            "y2": {"field": "hi"}
          }
        },
        {
          "data": {"name": "curves"},
          "transform": [{"filter": "datum.p === 'BL' || datum.p === 'L'"}],
          "mark": {"type": "line", "clip": true},
          "encoding": {
            "x": {"field": "x", "type": "quantitative", "scale": {"domain": [-0.5, 24.5], "nice": false, "zero": false}, "axis": null},
            "y": {"field": "y", "type": "quantitative", "scale": {"type": "log", "domain": [0.0003, 1], "nice": false}, "axis": null},
            "color": {"field": "s", "type": "nominal", "legend": null,
              "scale": {"domain": ["Expected f(r)", "Measured f(r)", "Cluster lensing", "Galaxy lensing"], "range": ["#12BDF7", "#12BDF7", "#FF3514", "#2EE81C"]}},
            "strokeDash": {"field": "s", "type": "nominal", "legend": null,
              "scale": {"domain": ["Expected f(r)", "Measured f(r)", "Cluster lensing", "Galaxy lensing"], "range": [[1.5, 3], [8, 5], [12, 6], [1, 0]]}},
            "strokeWidth": {"condition": [{"test": "datum.s === 'Expected f(r)'", "value": 3}, {"test": "datum.s === 'Measured f(r)'", "value": 4}], "value": 2}
          }
        }
      ],
      "resolve": {"axis": {"x": "independent", "y": "independent"}}
    },
    {
      "width": 330, "height": 320,
      "layer": [
        {
          "data": {"name": "hist"},
          "transform": [{"filter": "datum.p === 'BR'"}],
          "mark": {"type": "line", "interpolate": "step", "clip": true, "color": "#800020", "strokeWidth": 3.5},
          "encoding": {
            "x": {"field": "x", "type": "quantitative", "scale": {"domain": [-0.5, 24.5], "nice": false, "zero": false},
              "axis": {"orient": "bottom", "values": [0,1,2,3,4,5,6,7,8,9,10,11,12,13,14,15,16,17,18,19,20,21,22,23,24],
                "labelExpr": "datum.value % 5 === 0 ? datum.label : ''", "labelOverlap": false, "labelFlush": false, "labelPadding": 25, "title": null,
                "tickSize": {"condition": {"test": "datum.value % 5 === 0", "value": -7}, "value": -4}}},
            "y": {"field": "y", "type": "quantitative", "scale": {"type": "log", "domain": [0.0003, 1], "nice": false},
              "axis": {"orient": "left", "values": [0.0003,0.0004,0.0005,0.0006,0.0007,0.0008,0.0009,0.001,0.002,0.003,0.004,0.005,0.006,0.007,0.008,0.009,0.01,0.02,0.03,0.04,0.05,0.06,0.07,0.08,0.09,0.1,0.2,0.3,0.4,0.5,0.6,0.7,0.8,0.9,1],
                "labels": false, "title": null,
                "tickSize": {"condition": {"test": "abs(log(datum.value) / LN10 - round(log(datum.value) / LN10)) < 0.01", "value": -7}, "value": -4}}}
          }
        },
        {
          "data": {"name": "hist"},
          "transform": [{"filter": "datum.p === 'BR' && isValid(datum.lo)"}],
          "mark": {"type": "rule", "clip": true, "color": "#800020", "strokeWidth": 1.5},
          "encoding": {
            "x": {"field": "x", "type": "quantitative", "scale": {"domain": [-0.5, 24.5], "nice": false, "zero": false},
              "axis": {"orient": "top", "values": [0,1,2,3,4,5,6,7,8,9,10,11,12,13,14,15,16,17,18,19,20,21,22,23,24], "labels": false, "title": null,
                "tickSize": {"condition": {"test": "datum.value % 5 === 0", "value": -7}, "value": -4}}},
            "y": {"field": "lo", "type": "quantitative", "scale": {"type": "log", "domain": [0.0003, 1], "nice": false},
              "axis": {"orient": "right", "values": [0.0003,0.0004,0.0005,0.0006,0.0007,0.0008,0.0009,0.001,0.002,0.003,0.004,0.005,0.006,0.007,0.008,0.009,0.01,0.02,0.03,0.04,0.05,0.06,0.07,0.08,0.09,0.1,0.2,0.3,0.4,0.5,0.6,0.7,0.8,0.9,1],
                "labels": false,
                "tickSize": {"condition": {"test": "abs(log(datum.value) / LN10 - round(log(datum.value) / LN10)) < 0.01", "value": -7}, "value": -4},
                "title": "Red:  0.8< ²⁵⁰⁄₃₅₀ <1.3", "titleAngle": 270, "titleX": 40, "titleY": 160, "titleBaseline": "middle"}},
            "y2": {"field": "hi"}
          }
        },
        {
          "data": {"name": "curves"},
          "transform": [{"filter": "datum.p === 'BR' || datum.p === 'R'"}],
          "mark": {"type": "line", "clip": true},
          "encoding": {
            "x": {"field": "x", "type": "quantitative", "scale": {"domain": [-0.5, 24.5], "nice": false, "zero": false}, "axis": null},
            "y": {"field": "y", "type": "quantitative", "scale": {"type": "log", "domain": [0.0003, 1], "nice": false}, "axis": null},
            "color": {"field": "s", "type": "nominal", "legend": null,
              "scale": {"domain": ["Expected f(r)", "Measured f(r)", "Cluster lensing", "Galaxy lensing"], "range": ["#12BDF7", "#12BDF7", "#FF3514", "#2EE81C"]}},
            "strokeDash": {"field": "s", "type": "nominal", "legend": null,
              "scale": {"domain": ["Expected f(r)", "Measured f(r)", "Cluster lensing", "Galaxy lensing"], "range": [[1.5, 3], [8, 5], [12, 6], [1, 0]]}},
            "strokeWidth": {"condition": [{"test": "datum.s === 'Expected f(r)'", "value": 3}, {"test": "datum.s === 'Measured f(r)'", "value": 4}], "value": 2}
          }
        }
      ],
      "resolve": {"axis": {"x": "independent", "y": "independent"}}
    }
  ],
  "resolve": {"scale": {"color": "independent", "strokeDash": "independent"}},
  "config": {
    "view": {"stroke": "#000000", "strokeWidth": 1},
    "axis": {
      "domain": false, "grid": false, "tickColor": "#000000", "tickWidth": 1,
      "labelFont": "DejaVu Sans", "labelFontSize": 24, "labelFontWeight": 300, "labelColor": "#222222",
      "titleFont": "DejaVu Sans", "titleFontSize": 24, "titleFontWeight": 300, "titleColor": "#222222"
    },
    "legend": {"labelFont": "DejaVu Sans", "labelFontSize": 17, "labelFontWeight": 300, "labelColor": "#222222"},
    "title": {"font": "DejaVu Sans", "fontSize": 30, "fontWeight": 300, "color": "#222222", "offset": 16, "baseline": "alphabetic", "anchor": "middle", "frame": "group"}
  }
}
